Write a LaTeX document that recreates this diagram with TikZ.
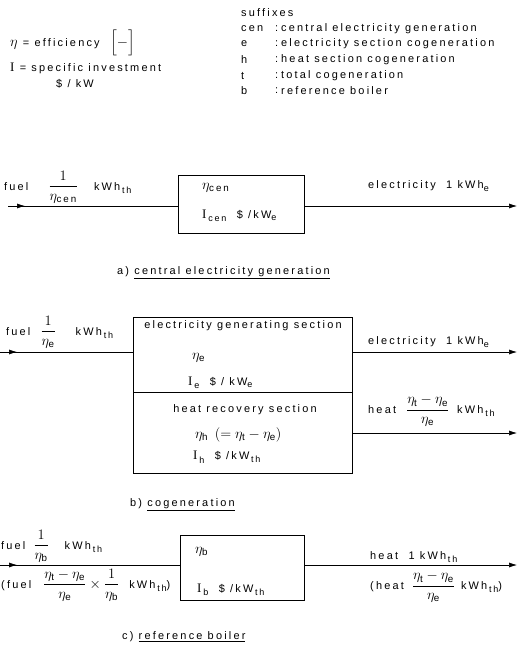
\documentclass[tikz,border=0pt,11pt]{standalone}
\usepackage{amsmath}
\usepackage{fontspec}
\setmainfont{Liberation Sans}[LetterSpace=20]
\newfontfamily\serifI{Liberation Serif}
\usetikzlibrary{arrows.meta,decorations.markings}
\newcommand\M[1]{{\fontsize{14}{16}\selectfont$#1$}}
\newcommand\II{{\fontsize{13}{15}\serifI I}}
\newcommand\etx[1]{\eta_{\text{#1}}}
\newcommand\kwhth{kWh\,\raisebox{-3pt}{\footnotesize th}}
\newcommand\kwhe{kWh\raisebox{-2.5pt}{\footnotesize e}}
\newcommand\kwe{kW\raisebox{-2.5pt}{\footnotesize e}}
\newcommand\kwth{kW\,\raisebox{-3pt}{\footnotesize th}}
\newcommand\sub[1]{\,\raisebox{-3.5pt}{\footnotesize #1}}
\begin{document}
\begin{tikzpicture}[x=1pt,y=-1pt,
  lbl/.style={inner sep=0pt, anchor=west},
  clbl/.style={inner sep=0pt},
  boxst/.style={draw, line width=0.7pt, inner sep=0pt, anchor=north west},
  flow/.style={line width=0.6pt},
  endarrow/.style={-{Latex[length=8pt,width=5pt]}},
  startarrow/.style={postaction=decorate, decoration={markings,
     mark=at position 17pt with {\arrow{Latex[length=8pt,width=5pt]}}}}]
\useasboundingbox (0,0) rectangle (523,651);
% legend
\node[lbl] (eff) at (10,43) {\M{\eta} = efficiency\ \ \M{\Bigl[-\Bigr]}};
\node[lbl] (inv) at (10,68) {\II\ = specific investment};
\node[lbl] (invu) at (56,84) {\$ / kW};
\node[lbl] (suf) at (241,13) {suffixes};
\node[lbl] (s1) at (241,29) {cen};
\node[lbl] (s2) at (241,44) {e};
\node[lbl] (s3) at (241,60) {h};
\node[lbl] (s4) at (241,76) {t};
\node[lbl] (s5) at (241,91) {b};
\foreach \y/\t [count=\i] in {29/central electricity generation,44/electricity section cogeneration,60/heat section cogeneration,76/total cogeneration,91/reference boiler}{
  \node[lbl] (c\i) at (275,\y) {:};
  \node[lbl] (d\i) at (281,\y) {\t};
}
% a) central electricity generation
\node[boxst, minimum width=126pt, minimum height=58pt] (boxa) at (178,175) {};
\node[lbl] (etacen) at (202,188) {\M{\etx{cen}}};
\node[lbl] (icen) at (202,216) {\II\sub{cen}\ \ \$\ /\kwe};
\coordinate (fa) at (8,206);
\draw[flow, startarrow] (fa) -- (fa -| boxa.west);
\coordinate (ea) at (517,206);
\draw[flow, endarrow] (ea -| boxa.east) -- (ea);
\node[lbl] (fuela) at (4,187) {fuel\hspace{20pt}\M{\dfrac{1}{\etx{cen}}}\hspace{16pt}\kwhth};
\node[lbl] (eleca) at (368,186) {electricity\ \ 1 \kwhe};
\node[lbl] (capa) at (117,273) {a)\ \underline{central electricity generation}};
% b) cogeneration
\node[boxst, minimum width=219pt, minimum height=75pt] (boxb1) at (133,317) {};
\node[boxst, minimum width=219pt, minimum height=81pt] (boxb2) at (133,392) {};
\node[clbl] (egs) at (243,326) {electricity generating section};
\node[lbl] (etae) at (192,358) {\M{\eta_{\text{e}}}};
\node[lbl] (ie) at (188,383) {\II\sub{e}\ \ \$\ / \kwe};
\node[clbl] (hrs) at (245,410) {heat recovery section};
\node[lbl] (etah) at (195,435) {\M{\eta_{\text{h}}\ (=\eta_{\text{t}}-\eta_{\text{e}})}};
\node[lbl] (ih) at (193,457) {\II\sub{h}\ \ \$\ /\kwth};
\coordinate (fb) at (0,352);
\draw[flow, startarrow] (fb) -- (fb -| boxb1.west);
\coordinate (eb) at (517,352);
\draw[flow, endarrow] (eb -| boxb1.east) -- (eb);
\coordinate (hb) at (517,433);
\draw[flow, endarrow] (hb -| boxb2.east) -- (hb);
\node[lbl] (fuelb) at (6,332) {fuel\hspace{10pt}\M{\dfrac{1}{\eta_{\text{e}}}}\hspace{20pt}\kwhth};
\node[lbl] (elecb) at (368,342) {electricity\ \ 1 \kwhe};
\node[lbl] (heatb) at (368,411) {heat\hspace{10pt}\M{\dfrac{\eta_{\text{t}}-\eta_{\text{e}}}{\eta_{\text{e}}}}\hspace{8pt}\kwhth};
\node[lbl] (capb) at (130,505) {b)\ \underline{cogeneration}};
% c) reference boiler
\node[boxst, minimum width=124pt, minimum height=65pt] (boxc) at (180,535) {};
\node[lbl] (etab) at (195,552) {\M{\eta_{\text{b}}}};
\node[lbl] (ib) at (197,590) {\II\sub{b}\ \ \$\ /\kwth};
\coordinate (fc) at (0,565);
\draw[flow, startarrow] (fc) -- (fc -| boxc.west);
\coordinate (ec) at (517,565);
\draw[flow, endarrow] (ec -| boxc.east) -- (ec);
\node[lbl] (fuelc) at (1,546) {fuel\hspace{8pt}\M{\dfrac{1}{\eta_{\text{b}}}}\hspace{16pt}\kwhth};
\node[lbl] (fuelc2) at (1,585) {(fuel\hspace{12pt}\M{\dfrac{\eta_{\text{t}}-\eta_{\text{e}}}{\eta_{\text{e}}}\times\dfrac{1}{\eta_{\text{b}}}}\hspace{10pt}\kwhth)};
\node[lbl] (heatc) at (370,557) {heat\ \ 1 \kwhth};
\node[lbl] (heatc2) at (370,587) {(heat\hspace{8pt}\M{\dfrac{\eta_{\text{t}}-\eta_{\text{e}}}{\eta_{\text{e}}}}\hspace{6pt}\kwhth)};
\node[lbl] (capc) at (122,637) {c)\ \underline{reference boiler}};
\end{tikzpicture}
\end{document}
